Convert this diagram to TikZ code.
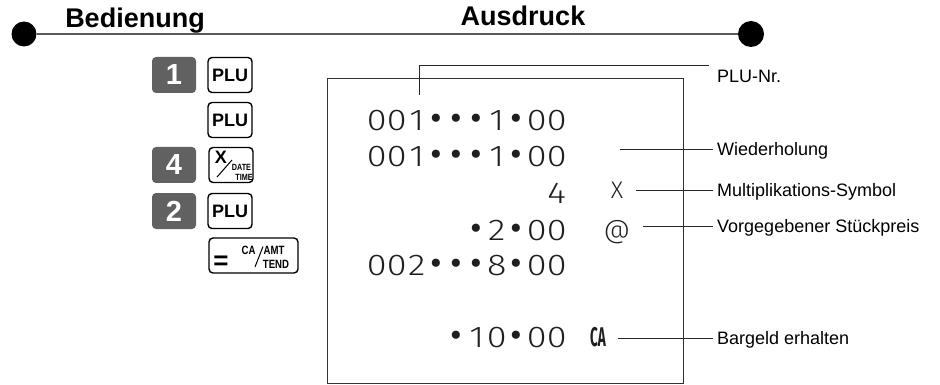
\documentclass[tikz,border=0pt]{standalone}
\usepackage{fontspec}
\setmainfont{Liberation Sans}
\newfontfamily\rcptfont{Fira Sans Light}
\newfontfamily\symfont{Fira Sans}
\usetikzlibrary{positioning}
% one printer column of the slip
\newcommand\pc[1]{\makebox[20pt]{\scalebox{1.2}[1]{#1}}}
\newcommand\bl{\makebox[20pt]{\symfont\fontsize{36}{36}\selectfont •}}

\begin{document}
\begin{tikzpicture}[
    x=1pt, y=-1pt,
    numkey/.style={rectangle, rounded corners=4pt, fill=black!62, minimum width=44pt, minimum height=36pt, inner sep=0pt, text=white, font=\fontsize{29}{29}\selectfont\bfseries},
    fnkey/.style={rectangle, rounded corners=4pt, draw=black, line width=1.4pt, fill=white, minimum width=44pt, minimum height=35pt, inner sep=0pt, font=\fontsize{18}{18}\selectfont\bfseries},
    heading/.style={font=\fontsize{27}{27}\selectfont\bfseries, inner sep=0pt, anchor=base},
    rcpt/.style={font=\rcptfont\fontsize{30}{30}\selectfont, text=black!88, inner sep=0pt, anchor=base east},
    sym/.style={font=\rcptfont\fontsize{24}{24}\selectfont, text=black!88, inner sep=0pt, anchor=base},
    lbl/.style={font=\fontsize{18}{18}\selectfont, text height=13pt, text depth=0pt, inner xsep=4pt, inner ysep=0pt, anchor=west},
    keytxt/.style={inner sep=0pt, font=\fontsize{9}{9}\selectfont\bfseries},
    leader/.style={line width=0.9pt, draw=black!85}
]
    \useasboundingbox (0,0) rectangle (940,385);

    % Title bar
    \node[circle, fill=black, minimum size=25pt, inner sep=0pt] (dotL) at (24,34) {};
    \node[circle, fill=black, minimum size=26pt, inner sep=0pt] (dotR) at (751,34) {};
    \draw[line width=2pt, black!65] (dotL) -- (dotR);
    \node[heading] (bed) at (135,28) {Bedienung};
    \node[heading] (aus) at (523,26) {Ausdruck};

    % Keys
    \node[numkey] (n1) at (174,75) {1};
    \node[fnkey] (plu1) at (230,75) {PLU};
    \node[fnkey] (plu2) at (230,120) {PLU};
    \node[numkey] (n4) at (174,165) {4};
    \node[fnkey] (mul) at (231,165) {};
    \node[numkey] (n2) at (174,211) {2};
    \node[fnkey] (plu3) at (230,211) {PLU};
    \node[fnkey, minimum width=89pt] (ca) at (253.5,255.5) {};

    % Key legends
    \node[inner sep=0pt, font=\fontsize{18}{18}\selectfont\bfseries] (mulX) at ([shift={(-10,-7.5)}]mul.center) {X};
    \draw[line width=1pt] ([shift={(-14,12)}]mul.center) -- ([shift={(1,-5)}]mul.center);
    \node[keytxt] (mulDate) at ([shift={(10.5,2.5)}]mul.center) {\scalebox{0.8}[1]{DATE}};
    \node[keytxt] (mulTime) at ([shift={(13,12.5)}]mul.center) {\scalebox{0.8}[1]{TIME}};
    \node[inner sep=0pt, font=\fontsize{26}{26}\selectfont\bfseries] (caEq) at ([shift={(-32.5,7)}]ca.center) {=};
    \node[keytxt, font=\fontsize{12}{12}\selectfont\bfseries] (caCA) at ([shift={(-5,-5.5)}]ca.center) {\scalebox{0.8}[1]{CA}};
    \draw[line width=1pt] ([shift={(1.5,11.5)}]ca.center) -- ([shift={(9.5,-9)}]ca.center);
    \node[keytxt, font=\fontsize{12}{12}\selectfont\bfseries] (caAmt) at ([shift={(20.5,-5.5)}]ca.center) {\scalebox{0.8}[1]{AMT}};
    \node[keytxt, font=\fontsize{12}{12}\selectfont\bfseries] (caTend) at ([shift={(22.5,9)}]ca.center) {\scalebox{0.8}[1]{TEND}};

    % Receipt
    \node[draw=black!80, line width=1pt, minimum width=356pt, minimum height=304pt, inner sep=0pt] (slip) at (505,231) {};
    \node[rcpt] (r1) at (567,131) {\pc0\pc0\pc1\bl\bl\bl\pc1\bl\pc0\pc0};
    \node[rcpt] (r2) at (567,167) {\pc0\pc0\pc1\bl\bl\bl\pc1\bl\pc0\pc0};
    \node[rcpt] (r3) at (567,203) {\pc4};
    \node[rcpt] (r4) at (567,240) {\bl\pc2\bl\pc0\pc0};
    \node[rcpt] (r5) at (567,275) {\pc0\pc0\pc2\bl\bl\bl\pc8\bl\pc0\pc0};
    \node[rcpt] (r6) at (567,347) {\bl\pc1\pc0\bl\pc0\pc0};
    \node[sym] (sX) at (617,198) {X};
    \node[sym, font=\rcptfont\fontsize{26}{26}\selectfont] (sAt) at (617,238) {@};
    \node[sym, font=\symfont\fontsize{27}{27}\selectfont\bfseries] (sCA) at (598,346) {\scalebox{0.5}[1]{CA}};

    % Labels
    \node[lbl, inner xsep=8pt, inner ysep=4pt, anchor=base west] (lplu) at (709,83) {PLU-Nr.};
    \node[lbl] (lwdh) at (713,149) {Wiederholung};
    \node[lbl] (lmul) at (713,190) {Multiplikations-Symbol};
    \node[lbl] (lvor) at (713,226) {Vorgegebener Stückpreis};
    \node[lbl] (lbar) at (713,338) {Bargeld erhalten};

    % Leaders
    \draw[leader] ([xshift=53pt, yshift=16pt]r1.north west) |- (lplu.north west);
    \draw[leader] ([xshift=53pt]r2.east |- lwdh.west) -- (lwdh.west);
    \draw[leader] ([xshift=13pt]sX.east |- lmul.west) -- (lmul.west);
    \draw[leader] ([xshift=13pt]sAt.east |- lvor.west) -- (lvor.west);
    \draw[leader] ([xshift=12pt]sCA.east |- lbar.west) -- (lbar.west);
\end{tikzpicture}
\end{document}
